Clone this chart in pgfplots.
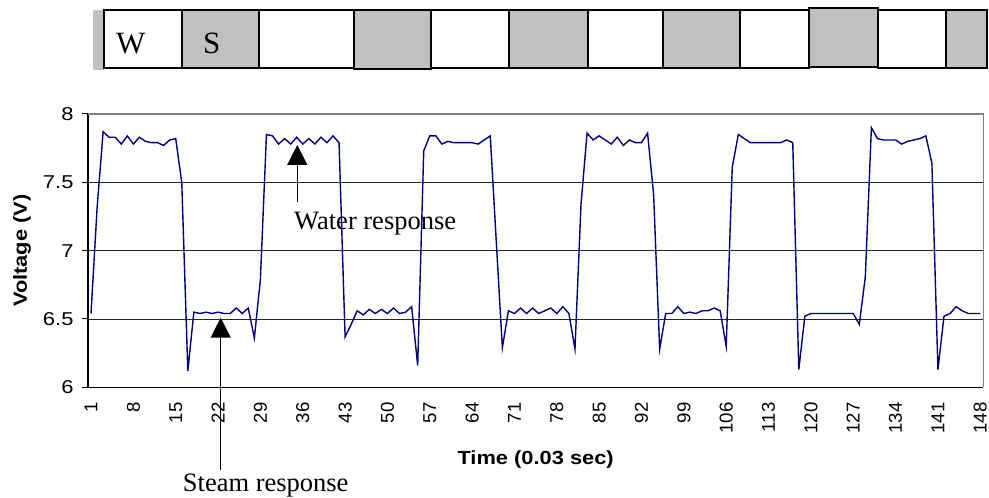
\documentclass[border=0pt]{standalone}
\usepackage{pgfplots}
\pgfplotsset{compat=1.18}
\usepackage{fontspec}
\setmainfont{Liberation Serif}
\newfontfamily\arial{Liberation Sans}
\usetikzlibrary{arrows.meta}
\definecolor{silverc}{RGB}{192,192,192}
\definecolor{navyc}{RGB}{0,0,128}

\pgfplotstableread{
x y
1 6.54
2 7.31
3 7.87
4 7.83
5 7.83
6 7.78
7 7.84
8 7.78
9 7.83
10 7.80
11 7.79
12 7.79
13 7.77
14 7.81
15 7.82
16 7.50
17 6.12
18 6.55
19 6.54
20 6.55
21 6.54
22 6.55
23 6.54
24 6.54
25 6.58
26 6.54
27 6.58
28 6.36
29 6.79
30 7.85
31 7.84
32 7.78
33 7.82
34 7.78
35 7.83
36 7.78
37 7.82
38 7.78
39 7.83
40 7.79
41 7.84
42 7.79
43 6.37
44 6.46
45 6.56
46 6.53
47 6.57
48 6.54
49 6.57
50 6.54
51 6.58
52 6.54
53 6.55
54 6.59
55 6.16
56 7.73
57 7.84
58 7.84
59 7.78
60 7.80
61 7.79
62 7.79
63 7.79
64 7.79
65 7.78
66 7.81
67 7.84
68 7.06
69 6.29
70 6.56
71 6.54
72 6.58
73 6.54
74 6.58
75 6.54
76 6.56
77 6.58
78 6.54
79 6.59
80 6.54
81 6.28
82 7.34
83 7.86
84 7.81
85 7.84
86 7.81
87 7.78
88 7.83
89 7.77
90 7.81
91 7.79
92 7.79
93 7.86
94 7.41
95 6.28
96 6.54
97 6.54
98 6.59
99 6.54
100 6.55
101 6.54
102 6.56
103 6.56
104 6.58
105 6.56
106 6.30
107 7.61
108 7.85
109 7.82
110 7.79
111 7.79
112 7.79
113 7.79
114 7.79
115 7.79
116 7.81
117 7.79
118 6.13
119 6.52
120 6.54
121 6.54
122 6.54
123 6.54
124 6.54
125 6.54
126 6.54
127 6.54
128 6.46
129 6.81
130 7.90
131 7.82
132 7.81
133 7.81
134 7.81
135 7.78
136 7.80
137 7.81
138 7.82
139 7.84
140 7.64
141 6.13
142 6.52
143 6.54
144 6.59
145 6.56
146 6.54
147 6.54
148 6.54
}\voltdata

\begin{document}
\begin{tikzpicture}
\useasboundingbox (0,0) rectangle (989bp,498bp);
\begin{axis}[
  at={(88bp,110.7bp)}, anchor=south west,
  scale only axis, width=895.3bp, height=273.3bp,
  xmin=0.5, xmax=148.5, ymin=6, ymax=8,
  axis x line*=bottom, axis y line*=left,
  axis line style={black, line width=1.2bp},
  xtick={1,8,...,148},
  minor xtick={0.5,10.5,...,140.5},
  ytick={6,6.5,7,7.5,8},
  yticklabels={6,6.5,7,7.5,8},
  tick align=outside,
  major tick length=6bp, minor tick length=6bp,
  tick style={black, line width=1bp},
  xtick style={draw=none},
  minor tick style={black, line width=1bp},
  ymajorgrids,
  major grid style={black!85, line width=0.9bp},
  every tick label/.append style={font=\arial\fontsize{18.6bp}{20bp}\selectfont},
  /pgf/number format/assume math mode=true,
  xticklabel style={rotate=90, anchor=east, inner sep=0pt, xshift=-9bp},
  yticklabel style={xscale=1.18, anchor=east, inner sep=0pt, xshift=-7bp},
  xlabel={\arial\bfseries Time (0.03 sec)},
  ylabel={\arial\bfseries Voltage (V)},
  label style={font=\fontsize{19bp}{21bp}\selectfont},
  xlabel style={at={(axis description cs:0.5,-0.266)}, anchor=center, xscale=1.15},
  ylabel style={at={(axis description cs:-0.0737,0.5)}, anchor=center, xscale=1.15},
  clip=false,
]
\addplot[navyc, line width=1.4bp] table[x=x, y=y] {\voltdata};
\draw[gray, line width=1.2bp] (rel axis cs:0,1) -- (rel axis cs:1,1) -- (rel axis cs:1,0);
\end{axis}

\begin{axis}[
  at={(0,0)}, anchor=south west,
  scale only axis, width=989bp, height=498bp,
  xmin=0, xmax=989, ymin=0, ymax=498,
  hide axis, clip=false,
]
\addplot[fill=silverc, draw=none] coordinates {(93,428) (104,428) (104,488) (93,488)} --cycle;
\addplot[fill=white, draw=black, line width=1.5bp] coordinates {(104,430) (182,430) (182,488) (104,488)} --cycle;
\addplot[fill=silverc, draw=black, line width=1.5bp] coordinates {(182,430) (259,430) (259,488) (182,488)} --cycle;
\addplot[fill=white, draw=black, line width=1.5bp] coordinates {(259,430) (354,430) (354,488) (259,488)} --cycle;
\addplot[fill=silverc, draw=black, line width=1.5bp] coordinates {(354,429) (431,429) (431,488) (354,488)} --cycle;
\addplot[fill=white, draw=black, line width=1.5bp] coordinates {(431,430) (509,430) (509,488) (431,488)} --cycle;
\addplot[fill=silverc, draw=black, line width=1.5bp] coordinates {(509,430) (588,430) (588,488) (509,488)} --cycle;
\addplot[fill=white, draw=black, line width=1.5bp] coordinates {(588,430) (663,430) (663,488) (588,488)} --cycle;
\addplot[fill=silverc, draw=black, line width=1.5bp] coordinates {(663,430) (740,430) (740,488) (663,488)} --cycle;
\addplot[fill=white, draw=black, line width=1.5bp] coordinates {(740,430) (809,430) (809,488) (740,488)} --cycle;
\addplot[fill=silverc, draw=black, line width=1.5bp] coordinates {(809,431) (878,431) (878,490) (809,490)} --cycle;
\addplot[fill=white, draw=black, line width=1.5bp] coordinates {(878,430) (946,430) (946,488) (878,488)} --cycle;
\addplot[fill=silverc, draw=black, line width=1.5bp] coordinates {(946,430) (987,430) (987,488) (946,488)} --cycle;
\node[anchor=base west, inner sep=0pt, font=\fontsize{31bp}{31bp}\selectfont] at (axis cs:116,444) {W};
\node[anchor=base west, inner sep=0pt, font=\fontsize{31bp}{31bp}\selectfont] at (axis cs:203,444) {S};
\draw[black, line width=1.5bp, -{Triangle[length=20bp, width=20bp]}] (axis cs:297.3,295.7) -- (axis cs:297.3,353);
\node[anchor=base west, inner sep=0pt, font=\fontsize{26.5bp}{27bp}\selectfont] at (axis cs:294,268) {Water response};
\draw[black, line width=1.5bp, -{Triangle[length=20bp, width=20bp]}] (axis cs:220.7,28) -- (axis cs:220.7,180.3);
\node[anchor=base west, inner sep=0pt, font=\fontsize{26.5bp}{27bp}\selectfont] at (axis cs:182.7,6.3) {Steam response};
\end{axis}
\end{tikzpicture}
\end{document}
